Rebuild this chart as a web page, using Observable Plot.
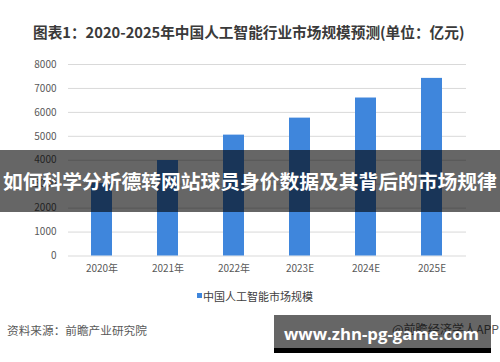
<!DOCTYPE html>
<html><head><meta charset="utf-8">
<script src="https://cdn.jsdelivr.net/npm/d3@7"></script>
<script src="https://cdn.jsdelivr.net/npm/@observablehq/plot@0.6"></script>
<style>
body{margin:0;background:#fff;}
#wrap{position:relative;width:500px;height:362px;overflow:hidden;font-family:"Noto Sans CJK SC","Noto Sans",sans-serif;background:#fff;}
.abs{position:absolute;white-space:nowrap;line-height:1;}
#wrap svg{position:absolute;left:0;top:0;}
</style></head><body>
<div id="wrap"></div>
<script>
const years = ["2020年","2021年","2022年","2023E","2024E","2025E"];
const values = [3031, 3990, 5050, 5760, 6600, 7420];
const yTicks = [0,1000,2000,3000,4000,5000,6000,7000,8000];
const seriesName = "中国人工智能市场规模";
const titleText = "图表1：2020-2025年中国人工智能行业市场规模预测(单位：亿元)";
const bannerText = "如何科学分析德转网站球员身价数据及其背后的市场规律";
const sourceText = "资料来源：前瞻产业研究院";
const creditText = "@前瞻经济学人APP";
const siteText = "www.zhn-pg-game.com";

const data = years.map((y, i) => ({year: y, value: values[i]}));
const font = '"Noto Sans CJK SC","Noto Sans",sans-serif';
const wrap = document.getElementById("wrap");

const chart = Plot.plot({
  width: 500, height: 362,
  marginTop: 64, marginBottom: 106.5, marginLeft: 68, marginRight: 34,
  style: {fontFamily: font, fontSize: "10px", color: "#595959", background: "transparent", overflow: "visible"},
  x: {domain: years, paddingInner: 0.68, paddingOuter: 0.34, label: null},
  y: {domain: [0, 8000], label: null},
  marks: [
    Plot.gridY(yTicks, {stroke: "#d9d9d9", strokeOpacity: 1, strokeWidth: 1}),
    Plot.barY(data, {x: "year", y: "value", fill: "#3F86DC"}),
    Plot.axisY(yTicks, {tickSize: 0, tickPadding: 12, fill: "#595959", label: null, tickFormat: d => String(d)}),
    Plot.axisX({tickSize: 0, tickPadding: 9, fill: "#595959", label: null})
  ]
});
wrap.appendChild(chart);

function addDiv(text, style, targetWidth) {
  const d = document.createElement("div");
  d.className = "abs";
  if (text !== null) d.textContent = text;
  Object.assign(d.style, style);
  wrap.appendChild(d);
  if (targetWidth) {
    const fs = parseFloat(d.style.fontSize);
    const w = d.getBoundingClientRect().width;
    if (w > 0) {
      const nfs = fs * targetWidth / w;
      d.style.fontSize = nfs + "px";
      const top = parseFloat(d.style.top);
      d.style.top = (top + (fs - nfs) / 2) + "px";
    }
  }
  return d;
}

// title
addDiv(titleText, {left: "33px", top: "24.5px", fontSize: "14.8px", fontWeight: "bold", color: "#3a3a3a"}, 432);

// legend
addDiv(null, {left: "197px", top: "292.5px", width: "5px", height: "5px", background: "#3F86DC"});
addDiv(seriesName, {left: "203px", top: "290px", fontSize: "12.2px", color: "#404040"}, 110);

// source + credit
addDiv(sourceText, {left: "7px", top: "324px", fontSize: "11.7px", color: "#595959"}, 140);
addDiv(creditText, {left: "392px", top: "323px", fontSize: "12px", color: "#595959"}, 107);

// banner overlay
addDiv(null, {left: "0px", top: "150px", width: "500px", height: "62px", background: "rgba(0,0,0,0.6)"});
addDiv(bannerText, {left: "3px", top: "171px", fontSize: "20.6px", fontWeight: "bold", color: "#fff"}, 494);

// site watermark box
addDiv(null, {left: "274px", top: "315px", width: "217px", height: "33px", background: "rgba(0,0,0,0.6)"});
addDiv(null, {left: "274px", top: "348px", width: "217px", height: "5px", background: "#000"});
addDiv(siteText, {left: "284px", top: "324px", fontSize: "20px", fontWeight: "bold", color: "#fff", fontFamily: '"Open Sans","DejaVu Sans",sans-serif'}, 195);
</script>
</body></html>
